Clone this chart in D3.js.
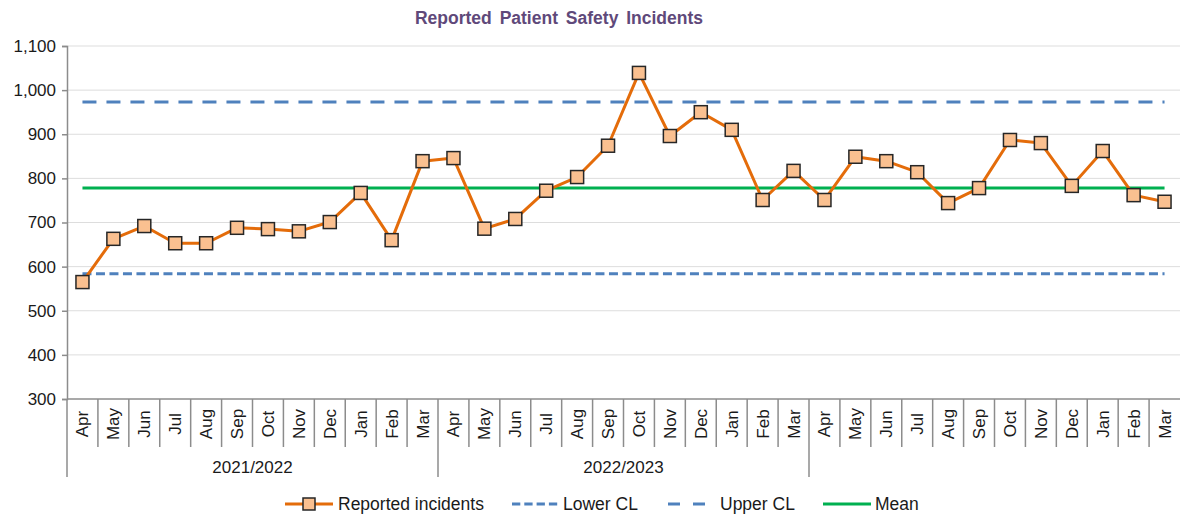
<!DOCTYPE html>
<html>
<head>
<meta charset="utf-8">
<script src="https://cdn.jsdelivr.net/npm/d3@7"></script>
<style>
  html, body { margin: 0; padding: 0; background: #fff; }
  svg { display: block; font-family: "Liberation Sans", Arial, sans-serif; }
</style>
</head>
<body>
<svg id="chart" width="1182" height="515"></svg>
<script>
// ---- data ----
const months = ["Apr","May","Jun","Jul","Aug","Sep","Oct","Nov","Dec","Jan","Feb","Mar",
                "Apr","May","Jun","Jul","Aug","Sep","Oct","Nov","Dec","Jan","Feb","Mar",
                "Apr","May","Jun","Jul","Aug","Sep","Oct","Nov","Dec","Jan","Feb","Mar"];
const years = ["2021/2022", "2022/2023", ""];
const incidents = [565, 663, 692, 653, 653, 688, 685, 680, 701, 767, 660, 839,
                   846, 686, 708, 772, 803, 874, 1039, 896, 950, 910, 751, 817,
                   751, 849, 839, 814, 744, 778, 887, 880, 783, 862, 762, 747];
const lowerCL = 584;
const upperCL = 973;
const meanVal = 778;
const yTicks = [300, 400, 500, 600, 700, 800, 900, 1000, 1100];
const legendLabels = ["Reported incidents", "Lower CL", "Upper CL", "Mean"];

(function () {
// ---- layout ----
const svg = d3.select("#chart");
const pLeft = 67, pRight = 1180, pTop = 46, pBottom = 399;
const idx = months.map((d, i) => i);
const x = d3.scaleBand().domain(idx).range([pLeft, pRight]).padding(0);
const cx = i => x(i) + x.bandwidth() / 2;
const y = d3.scaleLinear().domain([300, 1100]).range([pBottom, pTop]);

const orange = "#E46C0A", markerFill = "#FAC090", blue = "#4F81BD", green = "#00B050";
const axisGray = "#8C8C8C", textCol = "#1a1a1a";

// title
svg.append("text").attr("x", 559).attr("y", 24).attr("text-anchor", "middle")
  .attr("font-size", 17.5).attr("font-weight", "bold").attr("fill", "#5F497A")
  .attr("word-spacing", 3).text("Reported Patient Safety Incidents");

// gridlines
svg.append("g").selectAll("line").data(yTicks.filter(t => t > 300)).join("line")
  .attr("x1", pLeft).attr("x2", pRight).attr("y1", d => y(d)).attr("y2", d => y(d))
  .attr("stroke", "#DDDDDD").attr("stroke-width", 1);

// y axis
const yAxis = svg.append("g").attr("transform", `translate(${pLeft},0)`)
  .call(d3.axisLeft(y).tickValues(yTicks).tickFormat(d3.format(",")).tickSize(5).tickPadding(6));
yAxis.select(".domain").attr("stroke", axisGray).attr("stroke-width", 1.5);
yAxis.selectAll(".tick line").attr("stroke", axisGray).attr("stroke-width", 1.5);
yAxis.selectAll(".tick text").attr("font-size", 17).attr("fill", textCol)
  .attr("font-family", "Liberation Sans, Arial, sans-serif");

// x axis line
svg.append("line").attr("x1", pLeft).attr("x2", pRight).attr("y1", pBottom).attr("y2", pBottom)
  .attr("stroke", axisGray).attr("stroke-width", 1.5);

// month separators
svg.append("g").selectAll("line").data(idx).join("line")
  .attr("x1", d => x(d)).attr("x2", d => x(d))
  .attr("y1", pBottom).attr("y2", d => d % 12 === 0 ? 477 : 447)
  .attr("stroke", axisGray).attr("stroke-width", 1.5);

// month labels
svg.append("g").selectAll("text").data(idx).join("text")
  .attr("transform", d => `translate(${cx(d) + 6},${424}) rotate(-90)`)
  .attr("text-anchor", "middle").attr("font-size", 17).attr("fill", textCol)
  .text(d => months[d]);

// year labels
svg.append("g").selectAll("text").data(years).join("text")
  .attr("x", (d, i) => (x(i * 12) + x(i * 12 + 11) + x.bandwidth()) / 2)
  .attr("y", 473).attr("text-anchor", "middle").attr("font-size", 17).attr("fill", textCol)
  .text(d => d);

// control lines
const x0 = cx(0), x1 = cx(months.length - 1);
svg.append("line").attr("x1", x0).attr("x2", x1).attr("y1", y(upperCL)).attr("y2", y(upperCL))
  .attr("stroke", blue).attr("stroke-width", 3).attr("stroke-dasharray", "14,10");
svg.append("line").attr("x1", x0).attr("x2", x1).attr("y1", y(lowerCL)).attr("y2", y(lowerCL))
  .attr("stroke", blue).attr("stroke-width", 3).attr("stroke-dasharray", "9,4.5");
svg.append("line").attr("x1", x0).attr("x2", x1).attr("y1", y(meanVal)).attr("y2", y(meanVal))
  .attr("stroke", green).attr("stroke-width", 3);

// series line
const line = d3.line().x((d, i) => cx(i)).y(d => y(d));
svg.append("path").datum(incidents).attr("d", line)
  .attr("fill", "none").attr("stroke", orange).attr("stroke-width", 3).attr("stroke-linejoin", "round");

// markers
const ms = 13;
svg.append("g").selectAll("rect").data(incidents).join("rect")
  .attr("x", (d, i) => cx(i) - ms / 2).attr("y", d => y(d) - ms / 2)
  .attr("width", ms).attr("height", ms)
  .attr("fill", markerFill).attr("stroke", "#262626").attr("stroke-width", 1.5);

// legend
const ly = 504, lfs = 17.5;
const lg = svg.append("g");
lg.append("line").attr("x1", 285).attr("x2", 333).attr("y1", ly).attr("y2", ly)
  .attr("stroke", orange).attr("stroke-width", 3);
lg.append("rect").attr("x", 309 - 6).attr("y", ly - 6).attr("width", 12).attr("height", 12)
  .attr("fill", markerFill).attr("stroke", "#262626").attr("stroke-width", 1.5);
lg.append("text").attr("x", 338).attr("y", ly + 6).attr("font-size", lfs).attr("fill", textCol).text(legendLabels[0]);
lg.append("line").attr("x1", 512).attr("x2", 560).attr("y1", ly).attr("y2", ly)
  .attr("stroke", blue).attr("stroke-width", 3).attr("stroke-dasharray", "8.3,4");
lg.append("text").attr("x", 563).attr("y", ly + 6).attr("font-size", lfs).attr("fill", textCol).text(legendLabels[1]);
lg.append("line").attr("x1", 668).attr("x2", 705).attr("y1", ly).attr("y2", ly)
  .attr("stroke", blue).attr("stroke-width", 3).attr("stroke-dasharray", "12,13");
lg.append("text").attr("x", 720).attr("y", ly + 6).attr("font-size", lfs).attr("fill", textCol).text(legendLabels[2]);
lg.append("line").attr("x1", 823).attr("x2", 871).attr("y1", ly).attr("y2", ly)
  .attr("stroke", green).attr("stroke-width", 3);
lg.append("text").attr("x", 875).attr("y", ly + 6).attr("font-size", lfs).attr("fill", textCol).text(legendLabels[3]);
})();
</script>
</body>
</html>
